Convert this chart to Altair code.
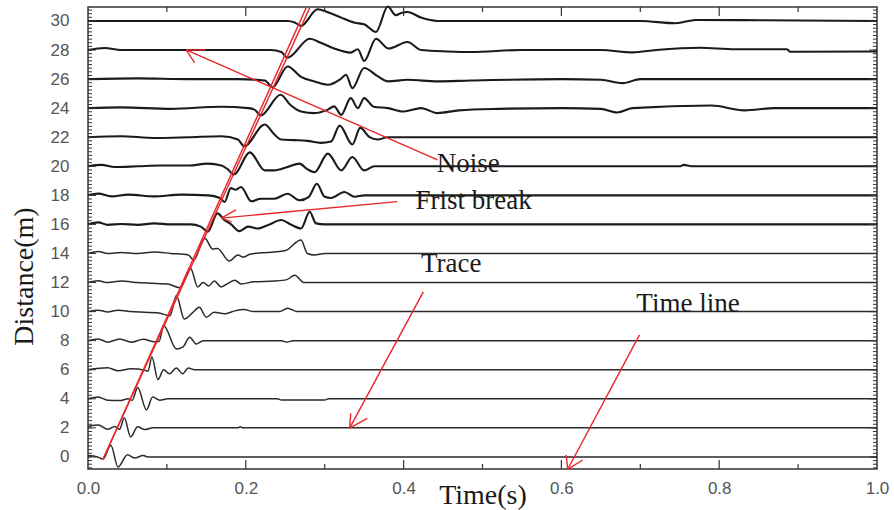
import altair as alt
import pandas as pd

# ---------------- data ----------------
DISTANCES = [0, 2, 4, 6, 8, 10, 12, 14, 16, 18, 20, 22, 24, 26, 28, 30]

# (time s, amplitude in metres of offset from the trace baseline)
TRACE_00 = [(0.000, 0.10), (0.012, 0.00), (0.019, -0.15), (0.029, 0.80), (0.038, -0.70),
            (0.050, 0.15), (0.059, -0.07), (0.070, 0.10), (0.076, 0.00), (1.000, 0.00)]
TRACE_02 = [(0.000, 0.10), (0.013, 0.20), (0.025, -0.10), (0.034, 0.10), (0.040, -0.10),
            (0.046, 0.70), (0.054, -0.62), (0.063, 0.07), (0.072, -0.12), (0.082, 0.00),
            (0.190, 0.00), (0.193, 0.08), (0.196, 0.00), (1.000, 0.00)]
TRACE_04 = [(0.000, 0.00), (0.013, 0.12), (0.025, -0.10), (0.040, -0.12), (0.051, 0.00),
            (0.056, -0.10), (0.063, 0.78), (0.074, -0.76), (0.082, 0.12), (0.091, -0.10),
            (0.101, 0.00), (0.240, 0.00), (0.245, -0.08), (0.300, -0.08), (0.305, 0.00),
            (1.000, 0.00)]
TRACE_06 = [(0.000, 0.00), (0.025, 0.13), (0.038, -0.07), (0.055, 0.07), (0.072, -0.03),
            (0.076, -0.10), (0.081, 0.87), (0.0886, -0.67), (0.096, 0.00), (0.103, -0.28),
            (0.112, 0.12), (0.120, -0.28), (0.127, 0.12), (0.135, 0.00), (1.000, 0.00)]
TRACE_08 = [(0.000, 0.00), (0.013, 0.12), (0.025, -0.10), (0.040, 0.12), (0.055, -0.10),
            (0.070, 0.10), (0.084, -0.08), (0.090, -0.05), (0.096, 1.03), (0.112, -0.57),
            (0.120, -0.45), (0.129, 0.23), (0.137, -0.23), (0.146, 0.00), (0.245, 0.00),
            (0.252, -0.10), (0.260, 0.00), (1.000, 0.00)]
TRACE_10 = [(0.000, 0.00), (0.013, 0.10), (0.025, -0.02), (0.038, 0.10), (0.055, 0.00),
            (0.090, -0.10), (0.104, -0.28), (0.112, 1.10), (0.122, -0.50), (0.133, -0.05),
            (0.141, 0.30), (0.150, -0.39), (0.160, -0.05), (0.173, -0.15), (0.186, 0.05),
            (0.198, 0.14), (0.210, 0.00), (0.243, 0.00), (0.253, 0.23), (0.265, 0.00),
            (1.000, 0.00)]
TRACE_12 = [(0.000, 0.00), (0.013, 0.12), (0.025, 0.00), (0.042, 0.10), (0.063, 0.00),
            (0.101, -0.10), (0.116, -0.35), (0.130, 0.99), (0.139, -0.30), (0.146, 0.00),
            (0.153, -0.23), (0.160, 0.11), (0.169, -0.30), (0.177, -0.07), (0.186, 0.16),
            (0.194, -0.10), (0.210, 0.05), (0.236, 0.10), (0.252, 0.20), (0.262, 0.50),
            (0.274, 0.00), (1.000, 0.00)]
TRACE_14 = [(0.000, 0.00), (0.013, 0.14), (0.025, 0.00), (0.042, 0.07), (0.063, 0.00),
            (0.084, 0.10), (0.105, 0.00), (0.127, -0.10), (0.134, -0.45), (0.148, 1.05),
            (0.158, 0.30), (0.164, 0.35), (0.179, -0.52), (0.190, -0.10), (0.197, -0.25),
            (0.205, -0.05), (0.220, 0.05), (0.236, 0.10), (0.250, 0.20), (0.270, 0.92),
            (0.278, 0.00), (0.287, -0.10), (0.300, 0.00), (1.000, 0.00)]
TRACE_16 = [(0.000, 0.00), (0.013, 0.14), (0.025, -0.03), (0.042, 0.03), (0.063, -0.03),
            (0.084, 0.07), (0.105, 0.00), (0.130, 0.00), (0.143, -0.15), (0.152, -0.50),
            (0.164, 0.76), (0.173, 0.30), (0.181, 0.02), (0.192, -0.46), (0.203, -0.15),
            (0.215, -0.28), (0.230, 0.00), (0.245, 0.30), (0.257, 0.00), (0.270, -0.28),
            (0.281, 0.87), (0.289, 0.07), (0.300, 0.00), (1.000, 0.00)]
TRACE_18 = [(0.000, 0.00), (0.013, 0.12), (0.030, -0.07), (0.051, 0.05), (0.084, -0.07),
            (0.118, 0.05), (0.152, 0.00), (0.167, -0.18), (0.173, -0.46), (0.181, 0.50),
            (0.187, 0.38), (0.194, 0.57), (0.207, -0.41), (0.219, -0.23), (0.236, -0.23),
            (0.253, 0.11), (0.268, -0.34), (0.280, -0.10), (0.290, 0.80), (0.300, -0.10),
            (0.308, -0.18), (0.325, 0.23), (0.338, -0.10), (0.350, 0.00), (1.000, 0.00)]
TRACE_20 = [(0.000, 0.00), (0.017, 0.10), (0.034, -0.05), (0.063, 0.00), (0.093, 0.05),
            (0.127, 0.05), (0.152, 0.18), (0.169, 0.05), (0.177, -0.20), (0.185, -0.57),
            (0.205, 0.96), (0.224, -0.28), (0.236, -0.28), (0.253, -0.05), (0.268, 0.18),
            (0.278, -0.20), (0.287, -0.41), (0.304, 0.87), (0.321, -0.28), (0.335, 0.64),
            (0.350, -0.28), (0.363, 0.00), (0.750, 0.00), (0.755, 0.10), (0.765, 0.00),
            (1.000, 0.00)]
TRACE_22 = [(0.000, 0.00), (0.042, 0.07), (0.084, -0.05), (0.127, 0.00), (0.169, 0.07),
            (0.190, -0.16), (0.198, -0.62), (0.224, 0.87), (0.236, 0.20), (0.245, -0.16),
            (0.261, -0.20), (0.278, -0.25), (0.295, -0.39), (0.308, -0.30), (0.319, 0.80),
            (0.335, -0.50), (0.345, 0.64), (0.357, 0.00), (0.367, -0.16), (0.380, 0.00),
            (1.000, 0.00)]
TRACE_24 = [(0.000, 0.00), (0.042, 0.05), (0.105, -0.05), (0.169, 0.10), (0.203, 0.00),
            (0.211, -0.10), (0.219, -0.50), (0.244, 0.92), (0.257, 0.20), (0.270, -0.23),
            (0.287, -0.34), (0.304, -0.10), (0.312, 0.12), (0.321, -0.46), (0.333, 0.69),
            (0.342, 0.00), (0.350, 0.69), (0.362, 0.10), (0.380, 0.00), (0.400, -0.23),
            (0.422, 0.00), (0.443, -0.34), (0.470, -0.15), (0.520, -0.05), (0.600, 0.00),
            (0.650, -0.05), (0.671, -0.30), (0.690, 0.00), (0.790, 0.18), (0.832, -0.15),
            (0.870, 0.00), (1.000, 0.00)]
TRACE_26 = [(0.000, 0.00), (0.063, 0.05), (0.127, 0.00), (0.190, 0.00), (0.224, -0.10),
            (0.234, -0.57), (0.253, 0.87), (0.270, 0.15), (0.287, -0.16), (0.304, -0.39),
            (0.320, 0.00), (0.327, 0.30), (0.335, -0.62), (0.350, 0.76), (0.367, 0.20),
            (0.380, -0.16), (0.405, -0.05), (0.443, -0.16), (0.485, -0.10), (0.600, 0.00),
            (0.650, -0.05), (0.678, -0.28), (0.700, 0.00), (1.000, 0.00)]
TRACE_28 = [(0.000, 0.00), (0.021, 0.14), (0.042, 0.00), (0.127, 0.00), (0.232, 0.00),
            (0.245, -0.14), (0.253, -0.53), (0.281, 0.78), (0.295, 0.50), (0.312, 0.10),
            (0.333, -0.18), (0.342, 0.05), (0.350, -0.76), (0.365, 0.78), (0.381, 0.10),
            (0.405, 0.55), (0.422, 0.00), (0.456, -0.10), (0.485, -0.14), (0.550, 0.00),
            (0.650, 0.00), (0.690, -0.16), (0.720, 0.00), (0.775, 0.16), (0.820, 0.05),
            (0.886, 0.05), (0.890, -0.12), (1.000, -0.10)]
TRACE_30 = [(0.000, 0.00), (0.127, 0.00), (0.253, 0.00), (0.262, -0.10), (0.270, -0.34),
            (0.291, 0.80), (0.304, 0.60), (0.321, 0.23), (0.338, -0.12), (0.350, -0.23),
            (0.365, -0.76), (0.380, 0.99), (0.390, 0.40), (0.397, 0.55), (0.405, 0.62),
            (0.422, 0.23), (0.443, 0.00), (0.550, 0.00), (0.700, 0.00), (0.745, -0.16),
            (0.770, 0.07), (0.850, 0.05), (1.000, 0.00)]

TRACES = [TRACE_00, TRACE_02, TRACE_04, TRACE_06, TRACE_08, TRACE_10, TRACE_12, TRACE_14,
          TRACE_16, TRACE_18, TRACE_20, TRACE_22, TRACE_24, TRACE_26, TRACE_28, TRACE_30]

# first-break picks (two hand-drawn red lines)
FB_TIME_START = [0.019, 0.019]
FB_DIST_START = [-0.16, -0.16]
FB_TIME_END = [0.281, 0.2765]
FB_DIST_END = [30.9, 30.9]

# annotation labels
LABELS = ["Noise", "Frist break", "Trace", "Time line"]
LABEL_T = [0.442, 0.415, 0.422, 0.695]
LABEL_D = [19.63, 17.05, 12.75, 10.0]

# arrows: tail, tip and the two arrow-head arms
ARROW_TAIL_T = [0.443, 0.392, 0.425, 0.699]
ARROW_TAIL_D = [20.44, 17.57, 11.36, 8.40]
ARROW_TIP_T = [0.1244, 0.1687, 0.3316, 0.608]
ARROW_TIP_D = [28.01, 16.43, 1.98, -0.85]
HEAD_A_T = [0.135, 0.1877, 0.354, 0.627]
HEAD_A_D = [27.14, 17.0, 2.66, -0.21]
HEAD_B_T = [0.149, 0.182, 0.333, 0.606]
HEAD_B_D = [28.01, 16.18, 3.0, 0.14]

X_TICK_LABELS = [0.0, 0.2, 0.4, 0.6, 0.8, 1.0]
X_MINOR = [0.1, 0.3, 0.5, 0.7, 0.9]
X_MAJOR = [0.2, 0.4, 0.6, 0.8]
Y_TICK_LABELS = DISTANCES
Y_MINOR = [v / 4 for v in range(-3, 124)]

# ---------------- build tables ----------------
rows = []
for d, tr in zip(DISTANCES, TRACES):
    for i, (t, a) in enumerate(tr):
        rows.append({"dist": d, "time": t, "y": d + a, "i": i})
df = pd.DataFrame(rows)
df_thin = df[df["dist"] < 16]
df_thick = df[df["dist"] >= 16]

W, H = 789, 462
x_scale = alt.Scale(domain=[0, 1], nice=False, zero=False)
y_scale = alt.Scale(domain=[-0.83, 30.96], nice=False, zero=False)

SERIF = "Liberation Serif"
SANS = "Liberation Sans"

x_axis = alt.Axis(values=X_TICK_LABELS, format=".1f", ticks=False, domain=False, grid=False,
                  labelFont=SANS, labelFontSize=17, labelColor="#555", labelPadding=11,
                  title="Time(s)", titleFont=SERIF, titleFontSize=28, titleFontWeight="normal",
                  titleColor="#1a1a1a", titleX=394.5, titleY=34, titleAlign="center",
                  titleBaseline="alphabetic", labelFlush=False)
y_axis = alt.Axis(values=Y_TICK_LABELS, ticks=False, domain=False, grid=False,
                  labelFont=SANS, labelFontSize=17, labelColor="#555", labelPadding=19,
                  title="Distance(m)", titleFont=SERIF, titleFontSize=28, titleFontWeight="normal",
                  titleColor="#1a1a1a", titleX=-64, titleY=269, titleAlign="center",
                  titleBaseline="middle", titleAngle=270)


def X(field):
    return alt.X(field, scale=x_scale, axis=x_axis)


def Y(field):
    return alt.Y(field, scale=y_scale, axis=y_axis)


thin = alt.Chart(df_thin).mark_line(interpolate="monotone", color="#2a2a2a", strokeWidth=1.5).encode(
    x=X("time:Q"), y=Y("y:Q"), detail="dist:N", order="i:Q")
thick = alt.Chart(df_thick).mark_line(interpolate="monotone", color="#1a1a1a", strokeWidth=2.1).encode(
    x=X("time:Q"), y=Y("y:Q"), detail="dist:N", order="i:Q")

fb = alt.Chart(pd.DataFrame({"t1": FB_TIME_START, "d1": FB_DIST_START,
                             "t2": FB_TIME_END, "d2": FB_DIST_END})).mark_rule(
    color="#e8262a", strokeWidth=1.4).encode(
    x=X("t1:Q"), y=Y("d1:Q"), x2="t2:Q", y2="d2:Q")

seg_rows = []
for i in range(len(ARROW_TIP_T)):
    seg_rows.append({"t1": ARROW_TAIL_T[i], "d1": ARROW_TAIL_D[i], "t2": ARROW_TIP_T[i], "d2": ARROW_TIP_D[i]})
    seg_rows.append({"t1": ARROW_TIP_T[i], "d1": ARROW_TIP_D[i], "t2": HEAD_A_T[i], "d2": HEAD_A_D[i]})
    seg_rows.append({"t1": ARROW_TIP_T[i], "d1": ARROW_TIP_D[i], "t2": HEAD_B_T[i], "d2": HEAD_B_D[i]})
arrows = alt.Chart(pd.DataFrame(seg_rows)).mark_rule(color="#e8262a", strokeWidth=1.4).encode(
    x=X("t1:Q"), y=Y("d1:Q"), x2="t2:Q", y2="d2:Q")

labels = alt.Chart(pd.DataFrame({"t": LABEL_T, "d": LABEL_D, "label": LABELS})).mark_text(
    align="left", baseline="alphabetic", font=SERIF, fontSize=27, color="#1a1a1a").encode(
    x=X("t:Q"), y=Y("d:Q"), text="label:N")

TICK_COLOR = "#333"
ymin_df = pd.DataFrame({"v": Y_MINOR})
ymaj_df = pd.DataFrame({"v": Y_TICK_LABELS})
xmin_df = pd.DataFrame({"v": X_MINOR})
xmaj_df = pd.DataFrame({"v": X_MAJOR})


def yticks(data, x0, x1):
    return alt.Chart(data).mark_rule(color=TICK_COLOR, strokeWidth=1).encode(
        y=Y("v:Q"), x=alt.value(x0), x2=alt.value(x1))


def xticks(data, y0, y1):
    return alt.Chart(data).mark_rule(color=TICK_COLOR, strokeWidth=1.2).encode(
        x=X("v:Q"), y=alt.value(y0), y2=alt.value(y1))


ticks = [
    yticks(ymin_df, 0, 4), yticks(ymaj_df, 0, 8),
    yticks(ymin_df, W, W - 4), yticks(ymaj_df, W, W - 8),
    xticks(xmin_df, 0, 5), xticks(xmaj_df, 0, 9),
    xticks(xmin_df, H, H - 5), xticks(xmaj_df, H, H - 9),
]

chart = alt.layer(thin, thick, *ticks, fb, arrows, labels).properties(
    width=W, height=H,
    autosize=alt.AutoSizeParams(type="none"),
    padding={"left": 88, "top": 7, "right": 17, "bottom": 41},
    background="white",
).configure_view(stroke="#333", strokeWidth=1.5)

chart.save("out.html", embed_options={"renderer": "svg", "actions": False})
